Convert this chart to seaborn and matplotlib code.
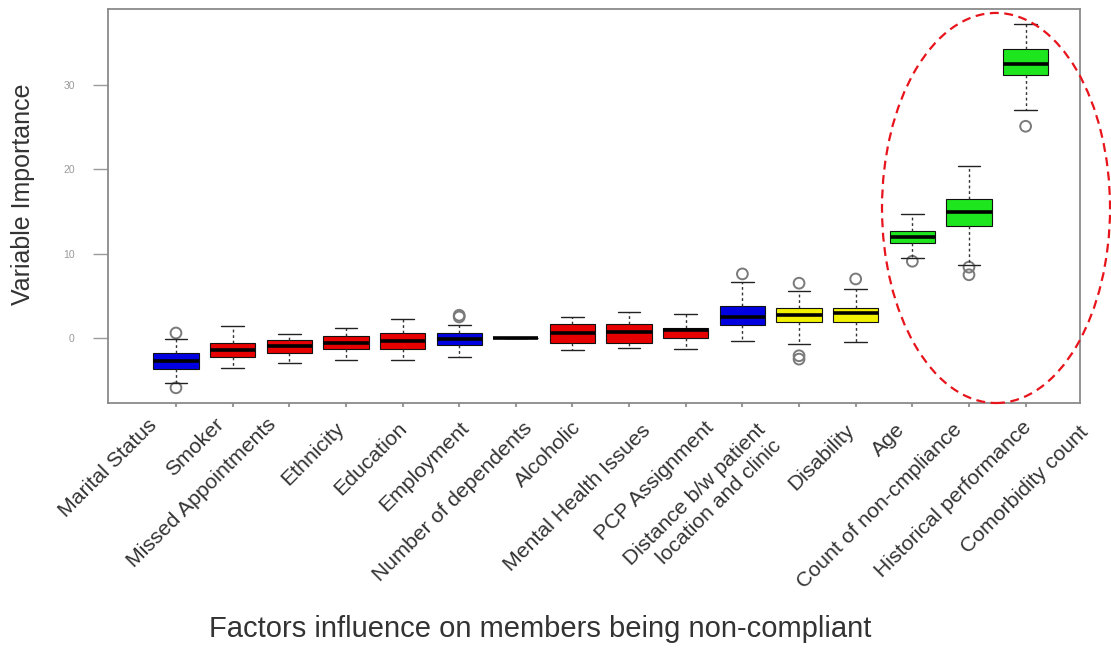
import numpy as np
import pandas as pd
import matplotlib
matplotlib.use("Agg")
import matplotlib.pyplot as plt
from matplotlib.patches import Ellipse
from matplotlib.transforms import ScaledTranslation
import seaborn as sns

# ---------------- data ----------------
categories = [
    "Marital Status", "Smoker", "Missed Appointments", "Ethnicity", "Education",
    "Employment", "Number of dependents", "Alcoholic", "Mental Health Issues",
    "PCP Assignment", "Distance b/w patient\nlocation and clinic", "Disability",
    "Age", "Count of non-cmpliance", "Historical performance", "Comorbidity count",
]
whisker_low = [-5.3, -3.6, -2.9, -2.6, -2.6, -2.3, 0.0, -1.4, -1.2, -1.3, -0.3, -0.7, -0.45, 9.5, 8.7, 27.0]
quart_1 = [-3.7, -2.3, -1.8, -1.3, -1.3, -0.8, 0.0, -0.55, -0.6, 0.05, 1.55, 1.85, 1.95, 11.3, 13.3, 31.2]
medians = [-2.7, -1.4, -1.0, -0.6, -0.3, -0.1, 0.0, 0.6, 0.7, 0.9, 2.5, 2.7, 3.0, 12.0, 14.9, 32.5]
quart_3 = [-1.8, -0.55, -0.25, 0.3, 0.6, 0.6, 0.0, 1.65, 1.65, 1.2, 3.8, 3.6, 3.6, 12.7, 16.45, 34.2]
whisker_high = [-0.1, 1.4, 0.45, 1.2, 2.25, 1.6, 0.0, 2.5, 3.1, 2.85, 6.6, 5.6, 5.8, 14.7, 20.4, 37.2]

outlier_factor = [
    "Marital Status", "Marital Status", "Employment", "Employment",
    "Distance b/w patient\nlocation and clinic", "Disability", "Disability", "Disability",
    "Age", "Count of non-cmpliance", "Historical performance", "Historical performance",
    "Comorbidity count",
]
outlier_value = [0.6, -5.9, 2.5, 2.7, 7.6, 6.5, -2.1, -2.5, 7.0, 9.1, 8.4, 7.5, 25.1]

y_ticks = [0, 10, 20, 30]

# ---------------- styles ----------------
BLUE, RED, YEL, GRN = "#0000E0", "#E60000", "#F2F200", "#1EE61E"
box_colors = [BLUE, RED, RED, RED, RED, BLUE, BLUE, RED, RED, RED, BLUE, YEL, YEL, GRN, GRN, GRN]

rows = []
for c, lo, a, m, b, hi in zip(categories, whisker_low, quart_1, medians, quart_3, whisker_high):
    for v in (lo, a, m, b, hi):
        rows.append((c, v))
df = pd.DataFrame(rows, columns=["factor", "importance"])

out_df = pd.DataFrame({
    "pos": [categories.index(c) for c in outlier_factor],
    "importance": outlier_value,
})

sns.set_style("white")
plt.rcParams["font.family"] = ["Liberation Sans", "DejaVu Sans"]

fig = plt.figure(figsize=(11.11, 6.5), dpi=100)
ax = fig.add_axes([108 / 1111, 1 - 403 / 650, (1080 - 108) / 1111, (403 - 9) / 650])

sns.boxplot(
    data=df, x="factor", y="importance", order=categories,
    hue="factor", hue_order=categories, palette=dict(zip(categories, box_colors)),
    legend=False, whis=(0, 100), width=0.8, saturation=1, showfliers=False,
    linecolor="#111111", linewidth=0.8,
    medianprops=dict(color="black", linewidth=2.6),
    whiskerprops=dict(linestyle=(0, (2, 2)), linewidth=1.0, color="#333333"),
    capprops=dict(color="#222222", linewidth=1.0),
    ax=ax,
)

sns.scatterplot(
    data=out_df, x="pos", y="importance", marker="o", s=60,
    facecolors="none", edgecolor="#7a7a7a", linewidth=1.4, legend=False, ax=ax,
)

ax.set_xlim(-1.2, 15.96)
ax.set_ylim(-7.7, 39.0)

# frame
for sp in ax.spines.values():
    sp.set_visible(True)
    sp.set_color("#8a8a8a")
    sp.set_linewidth(1.3)

# y axis ticks
ax.set_yticks(y_ticks)
ax.set_yticklabels([str(t) for t in y_ticks], fontsize=7.5, color="#9a9a9a")
ax.tick_params(axis="y", direction="out", length=11, width=1.0, color="#9a9a9a", pad=13, left=True)

# x axis ticks
ax.set_xticks(range(len(categories)))
ax.set_xticklabels(categories, rotation=45, ha="right", va="center",
                   rotation_mode="anchor", fontsize=15.3, color="#333333",
                   multialignment="right")
ax.tick_params(axis="x", direction="out", length=3, width=1.5, color="#9a9a9a", pad=0, bottom=True)

# label offsets (pixels) to reproduce the reference's staggered label placement
label_dx = [-22, -12, -16, -5, 2, 7, 13, 5, 18, 25, 28, 52, 46, 47, 59, 60]
label_dy = [15, 14, 14, 18, 18, 18, 18, 17, 20, 18, 28, 20, 19, 19, 17, 22]
for lab, dx, dy in zip(ax.get_xticklabels(), label_dx, label_dy):
    lab.set_transform(lab.get_transform() + ScaledTranslation(dx / 100, -dy / 100, fig.dpi_scale_trans))

ax.set_ylabel("Variable Importance", fontsize=18, color="#333333")
ax.yaxis.set_label_coords(-0.075, 0.53)
ax.set_xlabel("Factors influence on members being non-compliant", fontsize=21, color="#333333")
ax.xaxis.set_label_coords(0.445, -0.538)

# red dashed highlight ellipse around the top three factors
ell = Ellipse((0.9136, 0.495), width=0.2346, height=0.99, transform=ax.transAxes,
              fill=False, edgecolor="#E8141C", linestyle=(0, (4, 2.5)), linewidth=1.6,
              clip_on=False, zorder=5)
ax.add_patch(ell)

fig.savefig("out.png", dpi=100)
